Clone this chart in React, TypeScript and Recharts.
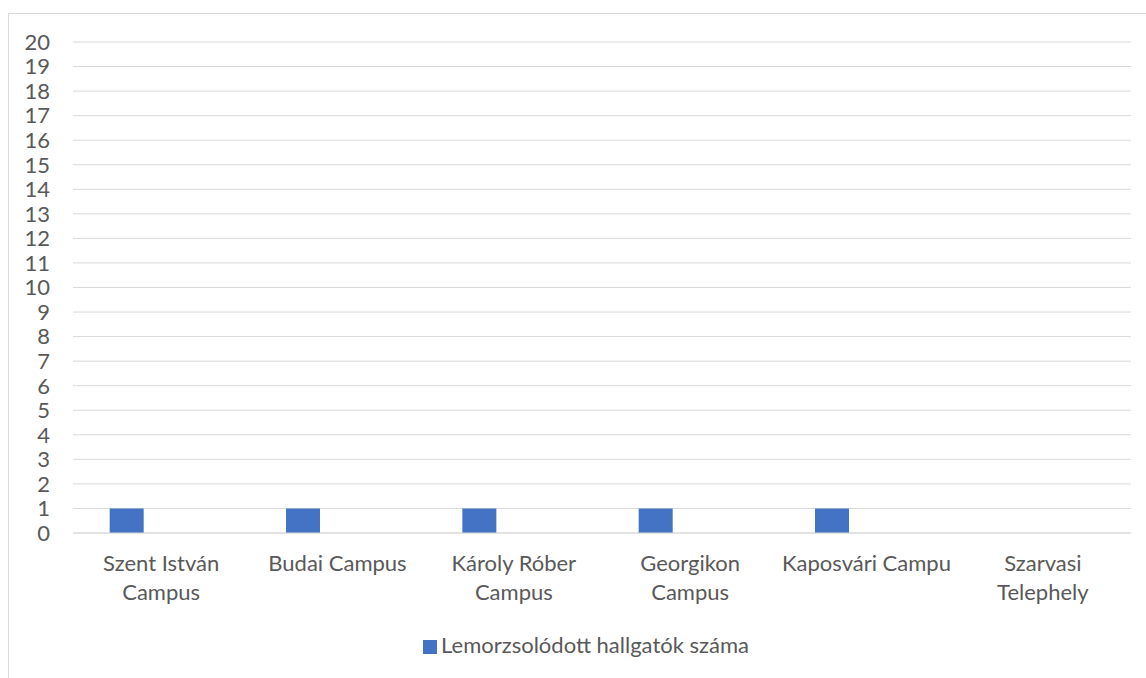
import React from 'react';
import { BarChart, Bar, XAxis, YAxis, CartesianGrid, Legend } from 'recharts';

const categories = [
  'Szent István Campus',
  'Budai Campus',
  'Károly Róber Campus',
  'Georgikon Campus',
  'Kaposvári Campus',
  'Szarvasi Telephely',
];

// labels as they are shown under the axis (Excel wraps / cuts them)
const tickLabels = [
  ['Szent István', 'Campus'],
  ['Budai Campus'],
  ['Károly Róber', 'Campus'],
  ['Georgikon', 'Campus'],
  ['Kaposvári Campu'],
  ['Szarvasi', 'Telephely'],
];

const dropouts = [1, 1, 1, 1, 1, 0];
// the source sheet has two more, empty series that keep their slots
const emptySeriesA = [null, null, null, null, null, null];
const emptySeriesB = [null, null, null, null, null, null];

const yTicks = [0, 1, 2, 3, 4, 5, 6, 7, 8, 9, 10, 11, 12, 13, 14, 15, 16, 17, 18, 19, 20];

const data = categories.map((name, i) => ({
  name,
  idx: i,
  dropouts: dropouts[i],
  a: emptySeriesA[i],
  b: emptySeriesB[i],
}));

const FONT = 'Lato, "Open Sans", sans-serif';
const TEXT = '#595959';

const CategoryTick = (props: any) => {
  const { x, y, index } = props;
  const lines = tickLabels[index] || [];
  return (
    <g transform={`translate(${x},${y})`}>
      <text textAnchor="middle" fill={TEXT} fontSize={22} fontFamily={FONT}>
        {lines.map((line, i) => (
          <tspan key={i} x={0} y={30 + i * 29}>
            {line}
          </tspan>
        ))}
      </text>
    </g>
  );
};

export default function App() {
  return (
    <div
      style={{
        position: 'absolute',
        left: 8,
        top: 13,
        width: 1138,
        height: 665,
        boxSizing: 'border-box',
        borderTop: '1px solid #D9D9D9',
        borderLeft: '1px solid #D9D9D9',
        background: '#fff',
      }}
    >
      <BarChart
        width={1137}
        height={664}
        data={data}
        margin={{ top: 28, right: 15, left: 0, bottom: 0 }}
        barCategoryGap="20.8%"
        barGap={0}
      >
        <CartesianGrid vertical={false} stroke="#D9D9D9" />
        <XAxis
          dataKey="name"
          interval={0}
          tick={<CategoryTick />}
          tickLine={false}
          axisLine={{ stroke: '#D9D9D9' }}
          height={118}
        />
        <YAxis
          domain={[0, 20]}
          ticks={yTicks}
          interval={0}
          width={64}
          tickLine={false}
          axisLine={false}
          tickMargin={17}
          tick={{ fill: TEXT, fontSize: 22, fontFamily: FONT }}
        />
        <Legend
          verticalAlign="bottom"
          iconType="square"
          iconSize={14}
          wrapperStyle={{ left: 20, width: 1124, bottom: 20, fontFamily: FONT, fontSize: 22 }}
          formatter={(value: string) => <span style={{ color: TEXT }}>{value}</span>}
        />
        <Bar
          dataKey="dropouts"
          name="Lemorzsolódott hallgatók száma"
          fill="#4472C4"
          isAnimationActive={false}
        />
        <Bar dataKey="a" legendType="none" fill="#ED7D31" isAnimationActive={false} />
        <Bar dataKey="b" legendType="none" fill="#A5A5A5" isAnimationActive={false} />
      </BarChart>
    </div>
  );
}
